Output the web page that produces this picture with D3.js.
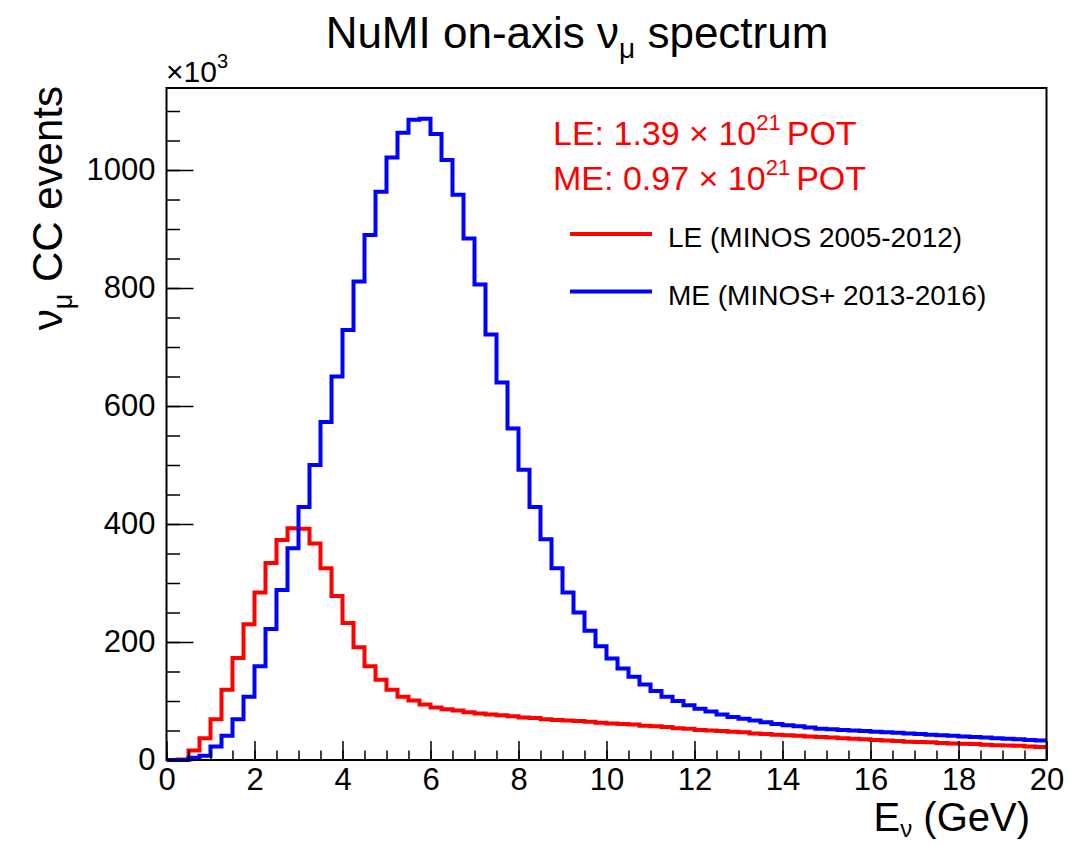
<!DOCTYPE html>
<html>
<head>
<meta charset="utf-8">
<script src="https://cdn.jsdelivr.net/npm/d3@7"></script>
<style>
  body { margin: 0; background: #fff; }
  svg { font-family: "Liberation Sans", Arial, Helvetica, sans-serif; }
</style>
</head>
<body>
<div class="graph"></div>
<script>
const width = 1091,
      height = 844;

// frame of the plot
const frameL = 166.5, frameR = 1046.5, frameT = 88, frameB = 760;

// 80 bins of 0.25 GeV, 0 - 20 GeV
const binWidth = 0.25;
const binLow = d3.range(0, 20, binWidth);

// LE beam, MINOS 2005-2012 (x10^3 events)
const leEvents = [
  0, 1, 16, 37, 69, 119, 173, 230, 284, 334,
  373, 393, 392, 367, 325, 278, 232, 191, 159, 136,
  119, 107, 101, 94, 89, 86, 84, 81, 79, 77,
  76, 74, 72, 71, 69, 68, 67, 66, 65, 63,
  62, 61, 60, 58, 57, 56, 54, 53, 51, 50,
  49, 48, 47, 45, 44, 43, 42, 41, 40, 39,
  38, 37, 36, 35, 34, 33, 32, 31, 30.5, 30,
  29, 28, 27.5, 27, 26, 25, 24.5, 24, 23, 22
];

// ME beam, MINOS+ 2013-2016 (x10^3 events)
const meEvents = [
  0, 0, 4, 7, 23, 41, 69, 107, 159, 222,
  288, 359, 429, 500, 573, 650, 729, 811, 890, 963,
  1021, 1063, 1085, 1087, 1061, 1017, 958, 884, 806, 721,
  640, 562, 492, 429, 374, 325, 284, 250, 219, 193,
  172, 155, 141, 128, 117, 107, 100, 93, 87, 82,
  77, 73, 70, 67, 64, 61, 59, 57, 55, 53,
  52, 51, 50, 49, 48, 47, 46, 45, 44, 43,
  42, 41, 40, 39, 38, 37, 36, 35, 34, 33
];

const xMajor = [0, 2, 4, 6, 8, 10, 12, 14, 16, 18, 20];
const xMinor = d3.range(0, 20.01, 0.5);
const yMajor = [0, 200, 400, 600, 800, 1000];
const yMinor = d3.range(0, 1101, 50);
const yMax = 1139;

const series = [
  {name: "LE (MINOS 2005-2012)", values: leEvents, color: "#ff0000"},
  {name: "ME (MINOS+ 2013-2016)", values: meEvents, color: "#0000ff"}
];

const x = d3.scaleLinear().domain([0, 20]).range([frameL, frameR]);
const y = d3.scaleLinear().domain([0, yMax]).range([frameB, frameT]);

const svg = d3.select(".graph")
  .append("svg")
  .attr("width", width)
  .attr("height", height);

svg.append("defs").append("clipPath").attr("id", "frame")
  .append("rect")
  .attr("x", frameL).attr("y", frameT - 2)
  .attr("width", frameR - frameL).attr("height", frameB - frameT + 4);

// histograms as step lines
const step = d3.line()
  .x(d => x(d[0]))
  .y(d => y(d[1]))
  .curve(d3.curveStepAfter);

series.forEach(s => {
  const pts = binLow.map((b, i) => [b, s.values[i]]);
  pts.push([20, s.values[s.values.length - 1]]);
  svg.append("path")
    .datum(pts)
    .attr("clip-path", "url(#frame)")
    .attr("fill", "none")
    .attr("stroke", s.color)
    .attr("stroke-width", 4)
    .attr("d", step);
});

// axes, ticks inside the frame
svg.append("g")
  .attr("transform", `translate(0,${frameB})`)
  .call(d3.axisBottom(x).tickValues(xMajor).tickSize(-19).tickPadding(8)
    .tickFormat(d3.format("d")));
svg.append("g")
  .attr("transform", `translate(0,${frameB})`)
  .call(d3.axisBottom(x).tickValues(xMinor).tickSize(-9.5).tickFormat(""));

svg.append("g")
  .attr("transform", `translate(${frameL},0)`)
  .call(d3.axisLeft(y).tickValues(yMajor).tickSize(-27).tickPadding(11)
    .tickFormat(d3.format("d")));
svg.append("g")
  .attr("transform", `translate(${frameL},0)`)
  .call(d3.axisLeft(y).tickValues(yMinor).tickSize(-13.5).tickFormat(""));

svg.selectAll(".domain").remove();
svg.selectAll(".tick line").attr("stroke", "#000").attr("stroke-width", 1.5);
svg.selectAll(".tick text")
  .attr("font-size", 31)
  .attr("fill", "#000")
  .attr("font-family", "Liberation Sans, Arial, sans-serif");

// frame
svg.append("rect")
  .attr("x", frameL).attr("y", frameT)
  .attr("width", frameR - frameL).attr("height", frameB - frameT)
  .attr("fill", "none")
  .attr("stroke", "#000")
  .attr("stroke-width", 2);

// title
const title = svg.append("text")
  .attr("x", 577).attr("y", 48)
  .attr("text-anchor", "middle")
  .attr("font-size", 44);
title.append("tspan").text("NuMI on-axis ν");
title.append("tspan").attr("font-size", 28).attr("dy", 10).text("μ");
title.append("tspan").attr("dy", -10).text(" spectrum");

// x10^3
const mult = svg.append("text").attr("x", 166).attr("y", 82).attr("font-size", 30);
mult.append("tspan").text("×10");
mult.append("tspan").attr("font-size", 20).attr("dy", -14).text("3");

// axis titles
const yTitle = svg.append("text")
  .attr("transform", "translate(62,86) rotate(-90)")
  .attr("text-anchor", "end")
  .attr("font-size", 42);
yTitle.append("tspan").text("ν");
yTitle.append("tspan").attr("font-size", 27).attr("dy", 10).text("μ");
yTitle.append("tspan").attr("dy", -10).text(" CC events");

const xTitle = svg.append("text")
  .attr("x", 1030).attr("y", 831)
  .attr("text-anchor", "end")
  .attr("font-size", 40);
xTitle.append("tspan").text("E");
xTitle.append("tspan").attr("font-size", 24).attr("dy", 6).text("ν");
xTitle.append("tspan").attr("dy", -6).text(" (GeV)");

// exposure text
const pot = [
  {label: "LE: 1.39 × 10", exp: "21", y: 145},
  {label: "ME: 0.97 × 10", exp: "21", y: 190}
];
pot.forEach(p => {
  const t = svg.append("text")
    .attr("x", 553).attr("y", p.y)
    .attr("font-size", 34)
    .attr("fill", "#ff0000");
  t.append("tspan").text(p.label);
  t.append("tspan").attr("font-size", 22).attr("dy", -15).text(p.exp);
  t.append("tspan").attr("dy", 15).attr("dx", 6).text("POT");
});

// legend
const legend = svg.append("g");
series.forEach((s, i) => {
  const ly = 234 + i * 57.5;
  legend.append("line")
    .attr("x1", 570).attr("x2", 652)
    .attr("y1", ly).attr("y2", ly)
    .attr("stroke", s.color)
    .attr("stroke-width", 4);
  legend.append("text")
    .attr("x", 668).attr("y", ly + 13)
    .attr("font-size", 28)
    .attr("fill", "#000")
    .text(s.name);
});
</script>
</body>
</html>
